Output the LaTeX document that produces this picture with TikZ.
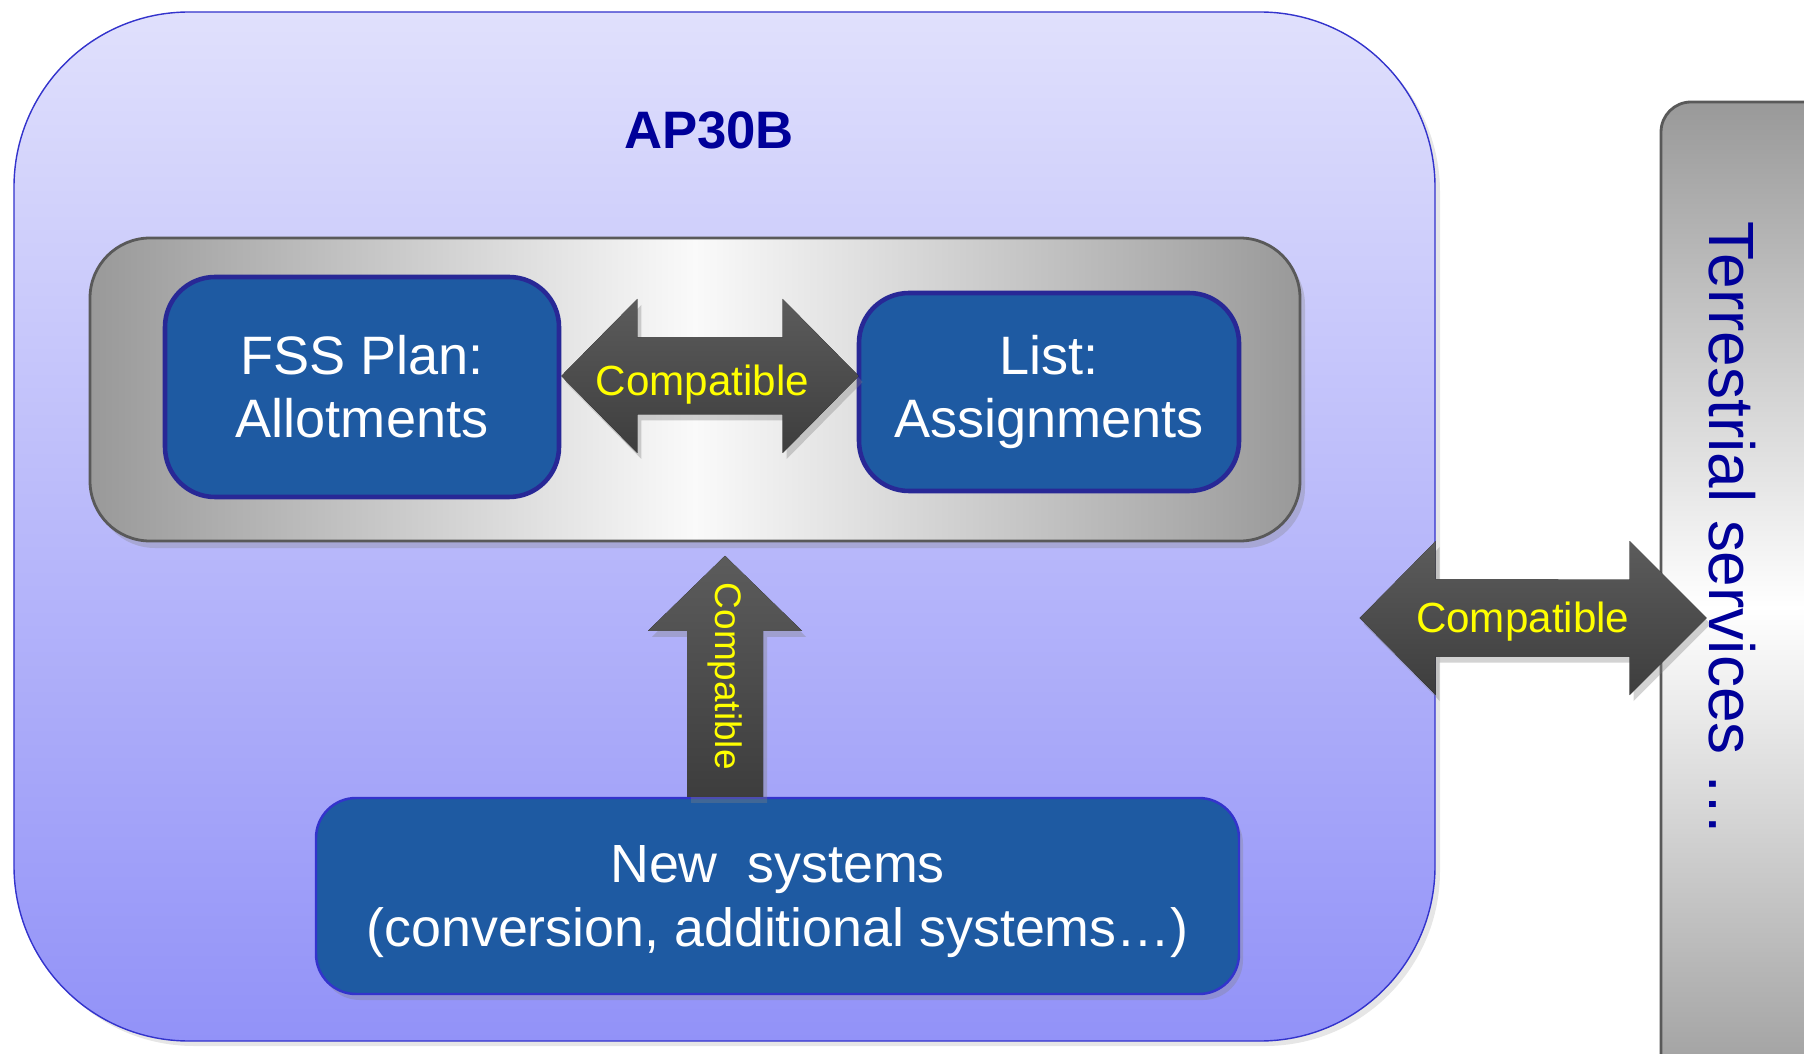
\documentclass[tikz,border=0pt]{standalone}
\usepackage{fontspec}
\setmainfont{Liberation Sans}
\usetikzlibrary{calc,shadows}
\definecolor{boxblue}{RGB}{30,90,162}
\definecolor{boxedge}{RGB}{40,40,150}
\definecolor{titleblue}{RGB}{0,0,153}
\definecolor{planedge}{RGB}{51,51,204}
\definecolor{lavtop}{RGB}{224,224,252}
\definecolor{lavbot}{RGB}{146,146,248}
\definecolor{compyellow}{RGB}{255,255,0}

\begin{document}
\begin{tikzpicture}[
    % Define styles
    plan/.style={rectangle, rounded corners=1.75cm, draw=planedge, thin, top color=lavtop, bottom color=lavbot, minimum width=14.21cm, minimum height=10.29cm, drop shadow={opacity=0.2, shadow xshift=0.05cm, shadow yshift=-0.05cm}},
    panel/.style={rectangle, rounded corners=0.6cm, draw=black!65, line width=0.8pt, left color=black!40, right color=black!40, middle color=black!2, minimum width=12.1cm, minimum height=3.03cm, drop shadow={opacity=0.3, shadow xshift=0.05cm, shadow yshift=-0.07cm}},
    sysbox/.style={rectangle, rounded corners=0.5cm, draw=boxedge, line width=1.3pt, fill=boxblue, text=white, align=center, font=\fontsize{15.4}{18}\selectfont},
    newbox/.style={rectangle, rounded corners=0.4cm, draw=planedge, line width=0.7pt, fill=boxblue, text=white, align=center, font=\fontsize{15.3}{18.3}\selectfont, drop shadow={opacity=0.3, shadow xshift=0.04cm, shadow yshift=-0.06cm}},
    terrbar/.style={rectangle, rounded corners=0.3cm, draw=black!65, line width=0.8pt, top color=black!40, bottom color=black!40, middle color=white, minimum width=2cm, minimum height=10.11cm},
    blockarrow/.style={top color=black!64, bottom color=black!76, draw=none, drop shadow={opacity=0.35, shadow xshift=0.04cm, shadow yshift=-0.06cm}},
    compat/.style={text=compyellow, inner sep=0pt, font=\fontsize{12}{14}\selectfont}
]
\useasboundingbox (0,0) rectangle (18.04,10.53);
\clip (0,0) rectangle (18.04,10.53);

% AP30B frame
\node[plan] (plan) at (7.245,5.265) {};
\node[text=titleblue, font=\fontsize{15}{18}\selectfont\bfseries] (title) at (7.09,9.23) {AP30B};

% Plan and list
\node[panel] (panel) at (6.95,6.635) {};
\node[sysbox, minimum width=3.94cm, minimum height=2.2cm] (fss) at (3.62,6.66) {FSS Plan:\\Allotments};
\node[sysbox, minimum width=3.8cm, minimum height=1.98cm] (list) at (10.49,6.61) {List:\\Assignments};

% Compatible between plan and list
\coordinate (ml) at ($(fss.east)+(0,0.11)$);
\coordinate (mr) at ($(list.west)+(0.02,0.16)$);
\fill[blockarrow] (ml) -- ++(0.76,0.77) -- ++(0,-0.385) -- ($(mr)+(-0.76,0.385)$) -- ++(0,0.385) -- (mr)
    -- ++(-0.76,-0.77) -- ++(0,0.385) -- ($(ml)+(0.76,-0.385)$) -- ++(0,-0.385) -- cycle;
\node[compat, yshift=-0.09cm] (mtext) at ($(ml)!0.475!(mr)$) {Compatible};

% New systems
\node[newbox, minimum width=9.23cm, minimum height=1.96cm, text depth=-0.07cm] (newsys) at (7.775,1.57) {New~ systems\\(conversion, additional systems…)};

% Compatible upwards
\coordinate (ubase) at ($(newsys.north)+(-0.525,0)$);
\coordinate (utip) at ($(ubase)+(0,2.41)$);
\fill[blockarrow] ($(ubase)+(-0.38,0)$) -- ++(0,1.66) -- ++(-0.39,0) -- (utip) -- ++(0.77,-0.75) -- ++(-0.39,0)
    -- ($(ubase)+(0.38,0)$) -- cycle;
\node[compat, rotate=-90, font=\fontsize{10.5}{12}\selectfont] (utext) at ($(ubase)!0.5!(utip)$) {Compatible};

% Terrestrial services
\node[terrbar] (terr) at (17.61,4.455) {};

% Compatible with terrestrial services
\coordinate (rl) at ($(plan.east)+(-0.76,-0.915)$);
\coordinate (rr) at ($(terr.west |- rl)+(0.47,0)$);
\fill[blockarrow] (rl) -- ++(0.76,0.77) -- ++(0,-0.385) -- ($(rr)+(-0.77,0.385)$) -- ++(0,0.385) -- (rr)
    -- ++(-0.77,-0.77) -- ++(0,0.385) -- ($(rl)+(0.76,-0.385)$) -- ++(0,-0.385) -- cycle;
\node[compat, yshift=-0.04cm] (rtext) at ($(rl)!0.47!(rr)$) {Compatible};

\node[text=titleblue, rotate=-90, font=\fontsize{18.2}{20}\selectfont] (terrtext) at (17.32,5.24) {Terrestrial services …};

\end{tikzpicture}
\end{document}
